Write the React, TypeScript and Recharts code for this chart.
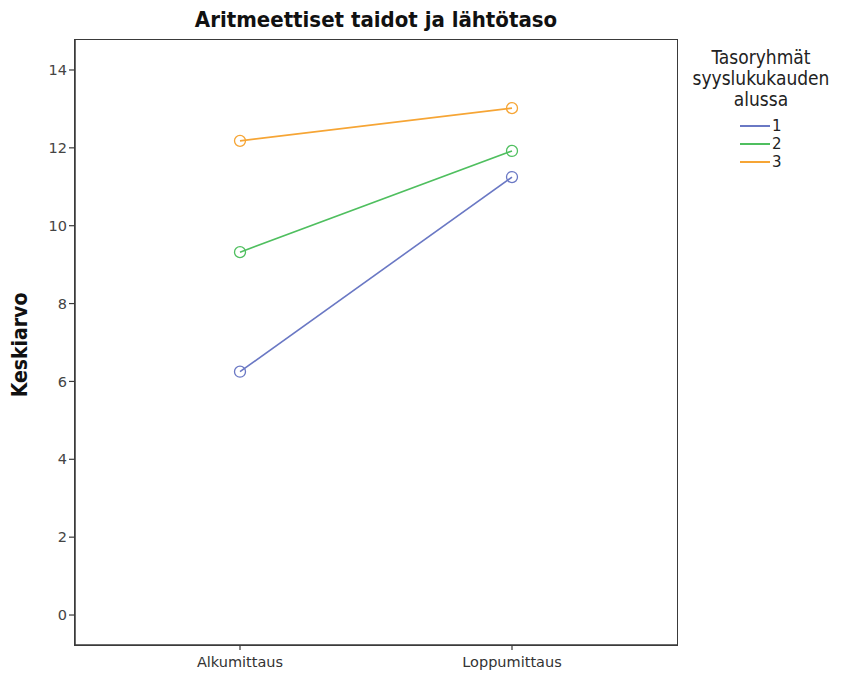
import { Line, LineChart, XAxis, YAxis } from "recharts";

const categories = ["Alkumittaus", "Loppumittaus"];
const group1 = [6.25, 11.25];
const group2 = [9.32, 11.92];
const group3 = [12.18, 13.02];
const yTicks = [0, 2, 4, 6, 8, 10, 12, 14];
const legendTitle = ["Tasoryhmät", "syyslukukauden", "alussa"];
const groupLabels = ["1", "2", "3"];

const COLORS = ["#6a78c4", "#4fbf5f", "#f6a535"];
const AXIS = "#3a3a3a";
const TICK_FONT = "'DejaVu Sans', sans-serif";

const chartData = categories.map((name, i) => ({
  name,
  g1: group1[i],
  g2: group2[i],
  g3: group3[i],
}));

const OpenDot = (props: { cx?: number; cy?: number; stroke?: string }) => {
  const { cx = 0, cy = 0, stroke } = props;
  return <circle cx={cx} cy={cy} r={5.5} fill="none" stroke={stroke} strokeWidth={1.3} />;
};

const App = () => {
  return (
    <div style={{ position: "absolute", left: 0, top: 0, width: 842, height: 677, background: "#fff" }}>
      <div
        style={{
          position: "absolute",
          left: 75,
          width: 602,
          top: 7,
          textAlign: "center",
          fontFamily: "'DejaVu Sans Condensed', sans-serif",
          fontWeight: "bold",
          fontSize: 22,
          color: "#111",
        }}
      >
        Aritmeettiset taidot ja lähtötaso
      </div>
      <div
        style={{
          position: "absolute",
          left: 20,
          top: 345,
          transform: "translate(-50%, -50%) rotate(-90deg)",
          fontFamily: "'DejaVu Sans Condensed', sans-serif",
          fontWeight: "bold",
          fontSize: 21,
          color: "#111",
          whiteSpace: "nowrap",
        }}
      >
        Keskiarvo
      </div>
      <LineChart
        width={842}
        height={677}
        data={chartData}
        margin={{ top: 40, right: 165, bottom: 0, left: 0 }}
      >
        <XAxis
          dataKey="name"
          height={32}
          padding={{ left: 165, right: 165 }}
          axisLine={{ stroke: AXIS, strokeWidth: 1.5 }}
          tickLine={{ stroke: AXIS, strokeWidth: 1.2 }}
          tickSize={5}
          tickMargin={7}
          tick={{ fill: "#333", fontSize: 14.5, fontFamily: TICK_FONT }}
          interval={0}
        />
        <YAxis
          width={75}
          domain={[-0.77, 14.77]}
          ticks={yTicks}
          allowDataOverflow
          axisLine={{ stroke: AXIS, strokeWidth: 1.5 }}
          tickLine={{ stroke: AXIS, strokeWidth: 1.2 }}
          tickSize={6}
          tick={{ fill: "#444", fontSize: 14.5, fontFamily: TICK_FONT }}
        />
        {(["g1", "g2", "g3"] as const).map((key, i) => (
          <Line
            key={key}
            dataKey={key}
            stroke={COLORS[i]}
            strokeWidth={1.6}
            dot={<OpenDot />}
            activeDot={false}
            isAnimationActive={false}
          />
        ))}
      </LineChart>
      {/* plot frame */}
      <div
        style={{
          position: "absolute",
          left: 74,
          top: 39,
          width: 602,
          height: 605,
          border: `1.5px solid ${AXIS}`,
          pointerEvents: "none",
        }}
      />
      <div
        style={{
          position: "absolute",
          left: 680,
          width: 162,
          top: 47,
          textAlign: "center",
          fontFamily: "'DejaVu Sans Condensed', sans-serif",
          fontSize: 19,
          lineHeight: "21px",
          color: "#222",
        }}
      >
        {legendTitle.map((t) => (
          <div key={t}>{t}</div>
        ))}
      </div>
      {groupLabels.map((label, i) => (
        <div
          key={label}
          style={{
            position: "absolute",
            left: 740,
            top: 117 + i * 18,
            height: 18,
            display: "flex",
            alignItems: "center",
            fontFamily: TICK_FONT,
            fontSize: 15,
            color: "#222",
          }}
        >
          <span style={{ display: "inline-block", width: 30, height: 2, background: COLORS[i], marginRight: 2 }} />
          {label}
        </div>
      ))}
    </div>
  );
};

export default App;
